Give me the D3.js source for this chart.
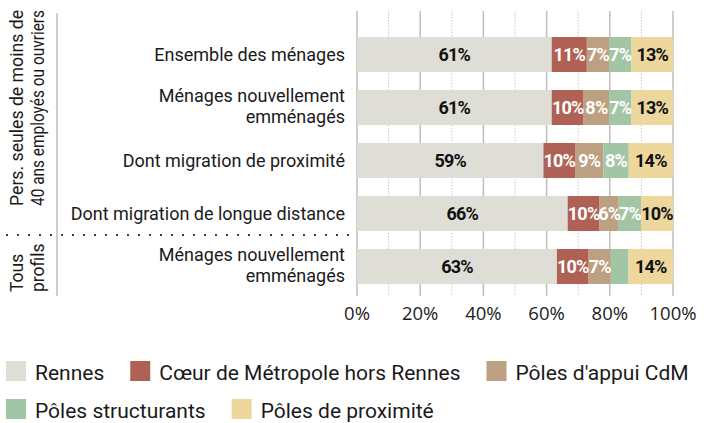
<!DOCTYPE html>
<html>
<head>
<meta charset="utf-8">
<script src="https://cdn.jsdelivr.net/npm/d3@7"></script>
<style>
  body { margin: 0; background: #fff; }
  svg { display: block; font-family: Roboto, "Noto Sans", sans-serif; }
</style>
</head>
<body>
<div id="chart"></div>
<script>
// Data
const categories = [
  "Ensemble des ménages",
  "Ménages nouvellement\nemménagés",
  "Dont migration de proximité",
  "Dont migration de longue distance",
  "Ménages nouvellement\nemménagés"
];
const series = ["Rennes", "Cœur de Métropole hors Rennes", "Pôles d'appui CdM", "Pôles structurants", "Pôles de proximité"];
const rennes = [61, 61, 59, 66, 63];
const coeur = [11, 10, 10, 10, 10];
const appui = [7, 8, 9, 6, 7];
const structurants = [7, 7, 8, 7, 5.6];
const proximite = [13, 13, 14, 10, 14];
const groupLabels = [["Pers. seules de moins de", "40 ans employés ou ouvriers"], ["Tous", "profils"]];
const ticks = [0, 20, 40, 60, 80, 100];

const colors = ["#dfded6", "#b06156", "#bda081", "#a2c6a5", "#edd79d"];
const labelColors = ["#111", "#fff", "#fff", "#fff", "#111"];

const W = 707, H = 423;
const svg = d3.select("#chart").append("svg")
  .attr("width", W)
  .attr("height", H);

// table for d3.stack
const table = categories.map((c, i) => {
  const row = { idx: i };
  row[series[0]] = rennes[i];
  row[series[1]] = coeur[i];
  row[series[2]] = appui[i];
  row[series[3]] = structurants[i];
  row[series[4]] = proximite[i];
  return row;
});

const stacked = d3.stack().keys(series).offset(d3.stackOffsetExpand)(table);

const x = d3.scaleLinear().domain([0, 1]).range([357, 673]);
const y = d3.scaleBand()
  .domain(categories.map((c, i) => i))
  .range([28, 293])
  .paddingInner(0.34)
  .paddingOuter(0.17);

// gridlines
const grid = svg.append("g");
grid.selectAll("line.minor")
  .data(d3.range(0.1, 1, 0.2))
  .enter().append("line")
  .attr("x1", d => x(d)).attr("x2", d => x(d))
  .attr("y1", 11).attr("y2", 296)
  .attr("stroke", "#c8c8c8")
  .attr("stroke-width", 1)
  .attr("stroke-dasharray", "1.5,1.5");
grid.selectAll("line.major")
  .data(ticks)
  .enter().append("line")
  .attr("x1", d => x(d / 100)).attr("x2", d => x(d / 100))
  .attr("y1", 11).attr("y2", 296)
  .attr("stroke", "#bdbdbd")
  .attr("stroke-width", 1.5);

// bars
const layers = svg.append("g").selectAll("g")
  .data(stacked)
  .enter().append("g")
  .attr("fill", (d, i) => colors[i]);

layers.selectAll("rect")
  .data(d => d)
  .enter().append("rect")
  .attr("x", d => x(d[0]))
  .attr("y", d => y(d.data.idx))
  .attr("width", d => x(d[1]) - x(d[0]))
  .attr("height", y.bandwidth());

// value labels
stacked.forEach((layer, k) => {
  svg.append("g").selectAll("text")
    .data(layer.filter(d => d.data[series[k]] >= 6))
    .enter().append("text")
    .attr("x", d => (x(d[0]) + x(d[1])) / 2)
    .attr("y", d => y(d.data.idx) + y.bandwidth() / 2 + 6.5)
    .attr("text-anchor", "middle")
    .attr("font-size", 18)
    .attr("font-weight", "bold")
    .attr("letter-spacing", -0.8)
    .attr("fill", labelColors[k])
    .text(d => Math.round(d.data[series[k]]) + "%");
});

// category labels
categories.forEach((c, i) => {
  const lines = c.split("\n");
  const cy = y(i) + y.bandwidth() / 2;
  const t = svg.append("text")
    .attr("text-anchor", "end")
    .attr("font-size", 18)
    .attr("fill", "#1a1a1a");
  lines.forEach((l, j) => {
    t.append("tspan")
      .attr("x", 345)
      .attr("y", lines.length === 1 ? cy + 6 : cy - 5.5 + j * 21)
      .text(l);
  });
});

// x axis labels
svg.append("g").selectAll("text")
  .data(ticks)
  .enter().append("text")
  .attr("x", d => x(d / 100))
  .attr("y", 320)
  .attr("text-anchor", "middle")
  .attr("font-family", "'Open Sans', sans-serif")
  .attr("font-size", 18.5)
  .attr("fill", "#222")
  .text(d => d + "%");

// left group separator and labels
svg.append("line")
  .attr("x1", 57).attr("x2", 57)
  .attr("y1", 13).attr("y2", 296)
  .attr("stroke", "#bdbdbd")
  .attr("stroke-width", 1.5);

svg.append("line")
  .attr("x1", 7).attr("x2", 352)
  .attr("y1", 235).attr("y2", 235)
  .attr("stroke", "#111")
  .attr("stroke-width", 2.2)
  .attr("stroke-linecap", "round")
  .attr("stroke-dasharray", "0,11");

const groupPos = [{ y: 108, anchor: "middle", len: 196 }, { y: 292, anchor: "start", len: null }];
groupLabels.forEach((lines, g) => {
  lines.forEach((l, j) => {
    const t = svg.append("text")
      .attr("transform", `translate(${23 + j * 21},${groupPos[g].y}) rotate(-90)`)
      .attr("text-anchor", groupPos[g].anchor)
      .attr("font-size", 18.5)
      .attr("fill", "#1a1a1a")
      .text(l);
    if (groupPos[g].len) {
      t.attr("textLength", groupPos[g].len).attr("lengthAdjust", "spacingAndGlyphs");
    } else {
      t.attr("font-size", 17.5);
    }
  });
});

// legend
const legendRows = [[0, 1, 2], [3, 4]];
legendRows.forEach((row, r) => {
  let lx = 6;
  const ly = 361 + r * 38;
  row.forEach(k => {
    svg.append("rect")
      .attr("x", lx).attr("y", ly)
      .attr("width", 20).attr("height", 20)
      .attr("fill", colors[k]);
    const t = svg.append("text")
      .attr("x", lx + 29)
      .attr("y", ly + 19)
      .attr("font-size", 21)
      .attr("fill", "#1a1a1a")
      .text(series[k]);
    lx += 29 + t.node().getComputedTextLength() + 26;
  });
});
</script>
</body>
</html>
